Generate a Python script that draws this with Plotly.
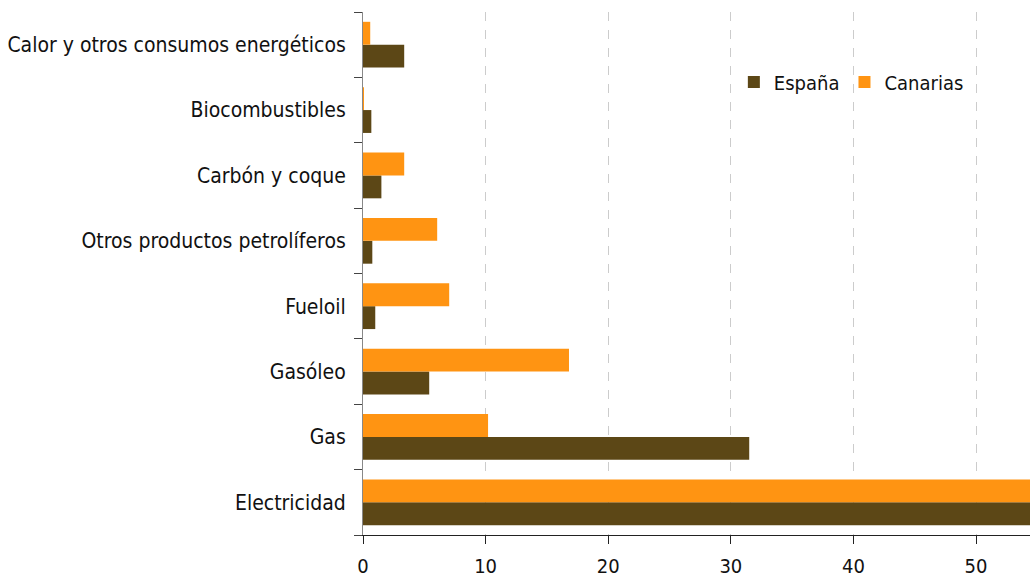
import plotly.graph_objects as go

categorias = ["Electricidad", "Gas", "Gasóleo", "Fueloil",
              "Otros productos petrolíferos", "Carbón y coque",
              "Biocombustibles", "Calor y otros consumos energéticos"]
espana = [56.0, 31.5, 5.4, 1.0, 0.76, 1.5, 0.68, 3.36]
canarias = [58.0, 10.2, 16.8, 7.03, 6.05, 3.36, 0.08, 0.59]
ticks_x = [0, 10, 20, 30, 40, 50]

fuente = "DejaVu Sans Condensed, DejaVu Sans"

fig = go.Figure()
fig.add_trace(go.Bar(y=categorias, x=espana, name="España", orientation="h",
                     marker=dict(color="#5C4716", line=dict(width=0))))
fig.add_trace(go.Bar(y=categorias, x=canarias, name="Canarias", orientation="h",
                     marker=dict(color="#FF9412", line=dict(width=0))))

fig.update_layout(
    width=1030, height=579,
    barmode="group", bargap=0.3, bargroupgap=0,
    plot_bgcolor="white", paper_bgcolor="white",
    margin=dict(l=363, r=0, t=12, b=44, autoexpand=False),
    font=dict(family=fuente, size=21, color="#111111"),
    legend=dict(orientation="h", x=0.556, xanchor="left", y=0.866, yanchor="middle",
                font=dict(size=20), itemwidth=30, traceorder="normal",
                bgcolor="rgba(0,0,0,0)"),
    showlegend=True,
)
fig.update_xaxes(range=[0, 54.4], tickvals=ticks_x, ticks="outside", ticklen=8,
                 tickcolor="#222222", showline=True, linecolor="#222222",
                 showgrid=True, gridcolor="#cccccc", griddash="dash", gridwidth=1,
                 zeroline=False, tickfont=dict(size=20), ticklabelstandoff=5)
fig.update_yaxes(ticks="outside", ticklen=8, tickson="boundaries", tickcolor="#444444",
                 showline=True, linecolor="#888888", showgrid=False,
                 tickfont=dict(size=21), ticklabelstandoff=12)

fig.write_html("out.html", config={"displayModeBar": False},
               post_script="document.body.style.margin='0';")
